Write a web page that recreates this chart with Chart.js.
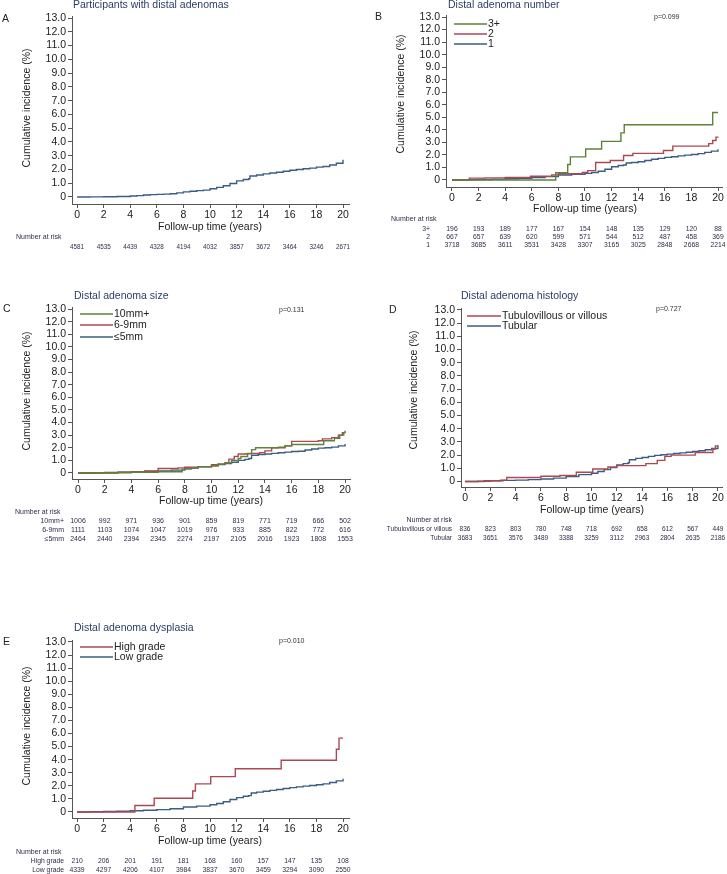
<!DOCTYPE html>
<html>
<head>
<meta charset="utf-8">
<script src="https://cdn.jsdelivr.net/npm/chart.js@4.4.0/dist/chart.umd.min.js"></script>
<style>
  body { margin: 0; background: #fff; width: 727px; height: 874px; position: relative; overflow: hidden; }
  canvas { position: absolute; }
</style>
</head>
<body>
<canvas id="pa"></canvas>
<canvas id="pb"></canvas>
<canvas id="pc"></canvas>
<canvas id="pd"></canvas>
<canvas id="pe"></canvas>
<script>
// axis ticks (years / percent)
const xTicks = [0, 2, 4, 6, 8, 10, 12, 14, 16, 18, 20];
const yTicks = [0, 1, 2, 3, 4, 5, 6, 7, 8, 9, 10, 11, 12, 13];
const riskTimes = [0, 2, 4, 6, 8, 10, 12, 14, 16, 18, 20];

// A - all participants
const aTime = [0, 1, 2, 3, 4, 4.5, 5, 5.5, 6, 6.5, 7, 7.5, 8, 8.5, 9, 9.5, 10, 10.5, 11, 11.5, 12, 12.5, 12.9, 13, 13.5, 14, 14.5, 15, 15.5, 16, 16.5, 17, 17.5, 18, 18.5, 19, 19.5, 20];
const aInc = [0, 0.01, 0.02, 0.04, 0.07, 0.1, 0.14, 0.17, 0.19, 0.21, 0.24, 0.3, 0.37, 0.42, 0.46, 0.5, 0.6, 0.7, 0.82, 0.98, 1.17, 1.27, 1.32, 1.52, 1.6, 1.68, 1.74, 1.8, 1.87, 1.94, 2.0, 2.05, 2.1, 2.17, 2.22, 2.32, 2.45, 2.7];
const aRisk = [4581, 4535, 4439, 4328, 4194, 4032, 3857, 3672, 3464, 3246, 2671];

// B - adenoma number
const bTime3 = [0, 7.8, 8.7, 8.9, 10.05, 11.25, 12.7, 12.95, 19.6, 20];
const bInc3 = [0, 0.58, 1.24, 1.84, 2.47, 3.08, 3.76, 4.4, 5.38, 5.38];
const bTime2 = [0, 1.3, 2.5, 4, 5.9, 7.5, 8, 9.8, 10.2, 10.8, 11.9, 12.9, 13.6, 15.9, 16.6, 19.3, 19.6, 19.85, 20];
const bInc2 = [0, 0.15, 0.17, 0.2, 0.3, 0.4, 0.5, 0.6, 0.75, 1.4, 1.55, 1.95, 2.12, 2.35, 2.7, 2.9, 3.15, 3.42, 3.45];
const bTime1 = [0, 1, 2, 3, 4, 5, 6, 7, 8, 9, 10, 10.5, 11, 11.5, 12, 12.5, 12.9, 13.1, 13.5, 14, 14.5, 15, 15.5, 16, 16.5, 17, 17.5, 18, 18.5, 19, 19.5, 20];
const bInc1 = [0, 0.02, 0.04, 0.07, 0.1, 0.14, 0.2, 0.27, 0.4, 0.46, 0.53, 0.6, 0.7, 0.85, 1.05, 1.15, 1.2, 1.35, 1.4, 1.45, 1.55, 1.65, 1.72, 1.8, 1.85, 1.92, 1.98, 2.03, 2.1, 2.2, 2.3, 2.45];
const bRisk3 = [196, 193, 189, 177, 167, 154, 148, 135, 129, 120, 88];
const bRisk2 = [667, 657, 639, 620, 599, 571, 544, 512, 487, 458, 369];
const bRisk1 = [3718, 3685, 3611, 3531, 3428, 3307, 3165, 3025, 2848, 2668, 2214];

// C - adenoma size
const cTime10 = [0, 1.5, 4, 6, 7.6, 7.8, 8.5, 9, 10, 10.5, 11, 11.5, 12, 12.2, 12.7, 13, 13.3, 15, 15.5, 16, 18.4, 19.2, 19.6, 19.9, 20];
const cInc10 = [0, 0.02, 0.05, 0.1, 0.1, 0.3, 0.4, 0.5, 0.55, 0.7, 0.8, 1.0, 1.15, 1.3, 1.55, 1.85, 2.0, 2.05, 2.15, 2.25, 2.55, 2.75, 3.0, 3.2, 3.2];
const cTime69 = [0, 3, 4, 5, 6, 7.5, 8, 9, 10, 10.5, 11, 11.3, 11.7, 12, 12.6, 13, 13.6, 14, 14.5, 15.5, 16, 18, 18.3, 19, 19.5, 19.8, 20];
const cInc69 = [0, 0.05, 0.1, 0.15, 0.35, 0.4, 0.45, 0.5, 0.65, 0.7, 0.8, 1.1, 1.3, 1.5, 1.52, 1.55, 1.6, 1.75, 2.0, 2.15, 2.5, 2.55, 2.7, 2.8, 3.0, 3.2, 3.35];
const cTime5 = [0, 1, 2, 3, 4, 5, 6, 7, 8, 9, 10, 10.5, 11, 11.5, 12, 12.5, 12.8, 13, 13.5, 14, 14.5, 15, 15.5, 16, 16.5, 17, 17.5, 18, 18.5, 19, 19.5, 20];
const cInc5 = [0, 0.01, 0.03, 0.05, 0.08, 0.11, 0.15, 0.22, 0.38, 0.48, 0.6, 0.67, 0.75, 0.85, 1.0, 1.08, 1.15, 1.4, 1.45, 1.5, 1.55, 1.6, 1.65, 1.7, 1.72, 1.82, 1.9, 1.97, 2.0, 2.05, 2.15, 2.3];
const cRisk10 = [1006, 992, 971, 936, 901, 859, 819, 771, 719, 666, 502];
const cRisk69 = [1111, 1103, 1074, 1047, 1019, 976, 933, 885, 822, 772, 616];
const cRisk5 = [2464, 2440, 2394, 2345, 2274, 2197, 2105, 2016, 1923, 1808, 1553];

// D - histology
const dTimeTV = [0, 1.5, 2.8, 3.3, 6, 7.5, 8.8, 10.1, 11.3, 12, 14.3, 15.2, 15.8, 16.3, 18.2, 19.6, 19.8, 20];
const dIncTV = [0, 0.05, 0.1, 0.3, 0.4, 0.45, 0.7, 0.95, 1.1, 1.2, 1.35, 1.6, 1.9, 2.0, 2.2, 2.45, 2.7, 2.7];
const dTimeT = [0, 1, 2, 3, 4, 5, 6, 7, 8, 9, 10, 10.5, 11, 11.5, 12, 12.5, 12.9, 13, 13.5, 14, 14.5, 15, 15.5, 16, 16.5, 17, 17.5, 18, 18.5, 19, 19.5, 20];
const dIncT = [0, 0.02, 0.05, 0.08, 0.1, 0.14, 0.19, 0.25, 0.38, 0.52, 0.62, 0.75, 0.9, 1.05, 1.25, 1.35, 1.42, 1.65, 1.75, 1.82, 1.9, 1.98, 2.03, 2.07, 2.12, 2.17, 2.22, 2.27, 2.33, 2.4, 2.5, 2.75];
const dRiskTV = [836, 823, 803, 780, 748, 718, 692, 658, 612, 567, 449];
const dRiskT = [3683, 3651, 3576, 3489, 3388, 3259, 3112, 2963, 2804, 2635, 2186];

// E - dysplasia
const eTimeH = [0, 4.35, 5.8, 8.7, 8.9, 10.05, 11.9, 15.35, 19.5, 19.7, 20];
const eIncH = [0, 0.5, 1.05, 1.6, 2.15, 2.7, 3.3, 3.95, 4.8, 5.65, 5.65];
const eTimeL = [0, 1, 2, 3, 4, 5, 6, 7, 8, 9, 10, 10.5, 11, 11.5, 12, 12.5, 12.9, 13.1, 13.5, 14, 14.5, 15, 15.5, 16, 16.5, 17, 17.5, 18, 18.5, 19, 19.5, 20];
const eIncL = [0, 0.02, 0.04, 0.06, 0.09, 0.13, 0.18, 0.25, 0.38, 0.45, 0.55, 0.65, 0.78, 0.95, 1.1, 1.2, 1.25, 1.45, 1.52, 1.58, 1.65, 1.72, 1.8, 1.86, 1.92, 1.98, 2.03, 2.08, 2.15, 2.25, 2.38, 2.55];
const eRiskH = [210, 206, 201, 191, 181, 168, 160, 157, 147, 135, 108];
const eRiskL = [4339, 4297, 4206, 4107, 3984, 3837, 3670, 3459, 3294, 3090, 2550];

const BLUE = '#3a5c85';
const RED = '#ad4852';
const GREEN = '#5e8238';
const FONT = '"Liberation Sans", Arial, sans-serif';

const pts = (t, v) => t.map((x, i) => ({ x: x, y: v[i] }));

const panels = [
  {
    id: 'pa', box: [0, 0, 364, 270], area: [72, 16, 349, 204], xr: [-0.38, 20.45], yr: [-0.51, 13.15],
    letter: ['A', 2, 19], title: ['Participants with distal adenomas', 73, 5], yTitle: [27, 108], xTitle: [210, 227],
    series: [{ label: 'All', data: pts(aTime, aInc), color: BLUE }],
    head: [16, 237, 'left'], rowX: 64, rowsY: [247], riskSize: 6.3,
    risk: [{ label: '', values: aRisk }]
  },
  {
    id: 'pb', box: [364, 0, 363, 270], area: [82, 15, 358, 187], xr: [-0.45, 20.3], yr: [-0.56, 13.16],
    letter: ['B', 11, 17], title: ['Distal adenoma number', 84, 5], yTitle: [37, 94], xTitle: [221, 209],
    p: ['p=0.099', 290, 17],
    series: [
      { label: '3+', data: pts(bTime3, bInc3), color: GREEN },
      { label: '2', data: pts(bTime2, bInc2), color: RED },
      { label: '1', data: pts(bTime1, bInc1), color: BLUE }
    ],
    legend: { x0: 90, x1: 123, ys: [24, 34, 44] },
    head: [27, 219, 'left'], rowX: 66, rowsY: [229, 237, 245], riskSize: 6.8,
    risk: [{ label: '3+', values: bRisk3 }, { label: '2', values: bRisk2 }, { label: '1', values: bRisk1 }]
  },
  {
    id: 'pc', box: [0, 280, 364, 290], area: [72, 27, 350, 199], xr: [-0.45, 20.37], yr: [-0.48, 13.16],
    letter: ['C', 3, 29], title: ['Distal adenoma size', 74, 16], yTitle: [27, 111], xTitle: [211, 221],
    p: ['p=0.131', 279, 30],
    series: [
      { label: '10mm+', data: pts(cTime10, cInc10), color: GREEN },
      { label: '6-9mm', data: pts(cTime69, cInc69), color: RED },
      { label: '≤5mm', data: pts(cTime5, cInc5), color: BLUE }
    ],
    legend: { x0: 80, x1: 113, ys: [34, 45, 57] },
    head: [15, 232, 'left'], rowX: 64, rowsY: [241, 250, 259], riskSize: 7,
    risk: [{ label: '10mm+', values: cRisk10 }, { label: '6-9mm', values: cRisk69 }, { label: '≤5mm', values: cRisk5 }]
  },
  {
    id: 'pd', box: [364, 280, 363, 290], area: [97, 28, 358, 207], xr: [-0.32, 20.32], yr: [-0.42, 13.15],
    letter: ['D', 25, 30], title: ['Distal adenoma histology', 97, 16], yTitle: [50, 110], xTitle: [228, 230],
    p: ['p=0.727', 292, 29],
    series: [
      { label: 'Tubulovillous or villous', data: pts(dTimeTV, dIncTV), color: RED },
      { label: 'Tubular', data: pts(dTimeT, dIncT), color: BLUE }
    ],
    legend: { x0: 103, x1: 137, ys: [36, 46] },
    head: [88, 240, 'right'], rowX: 88, rowsY: [249, 258], riskSize: 6.5,
    risk: [{ label: 'Tubulovillous or villous', values: dRiskTV }, { label: 'Tubular', values: dRiskT }]
  },
  {
    id: 'pe', box: [0, 610, 364, 264], area: [72, 30, 349, 208], xr: [-0.38, 20.45], yr: [-0.46, 13.15],
    letter: ['E', 3, 32], title: ['Distal adenoma dysplasia', 74, 18], yTitle: [27, 116], xTitle: [210, 231],
    p: ['p=0.010', 279, 31],
    series: [
      { label: 'High grade', data: pts(eTimeH, eIncH), color: RED },
      { label: 'Low grade', data: pts(eTimeL, eIncL), color: BLUE }
    ],
    legend: { x0: 80, x1: 113, ys: [37, 47] },
    head: [16, 242, 'left'], rowX: 64, rowsY: [251, 260], riskSize: 6.8,
    risk: [{ label: 'High grade', values: eRiskH }, { label: 'Low grade', values: eRiskL }]
  }
];

const Y_W = 40;
const X_H = 26;

// titles, legend, p-value and number-at-risk table
const decorations = {
  id: 'decorations',
  afterDraw(chart) {
    const p = chart.options.plugins.decorations.panel;
    const ctx = chart.ctx;
    const xs = chart.scales.x;
    ctx.save();
    ctx.textBaseline = 'middle';

    ctx.fillStyle = '#222';
    ctx.font = '10.5px ' + FONT;
    ctx.textAlign = 'left';
    ctx.fillText(p.letter[0], p.letter[1], p.letter[2]);

    ctx.fillStyle = '#2b3d66';
    ctx.fillText(p.title[0], p.title[1], p.title[2]);

    ctx.fillStyle = '#222';
    ctx.textAlign = 'center';
    ctx.fillText('Follow-up time (years)', p.xTitle[0], p.xTitle[1]);

    ctx.save();
    ctx.translate(p.yTitle[0], p.yTitle[1]);
    ctx.rotate(-Math.PI / 2);
    ctx.fillText('Cumulative incidence (%)', 0, 0);
    ctx.restore();

    if (p.legend) {
      p.series.forEach((s, i) => {
        const y = p.legend.ys[i];
        ctx.strokeStyle = s.color;
        ctx.lineWidth = 1.6;
        ctx.beginPath();
        ctx.moveTo(p.legend.x0, y);
        ctx.lineTo(p.legend.x1, y);
        ctx.stroke();
        ctx.fillStyle = '#222';
        ctx.textAlign = 'left';
        ctx.font = '10.5px ' + FONT;
        ctx.fillText(s.label, p.legend.x1 + 1, y);
      });
    }

    if (p.p) {
      ctx.fillStyle = '#333';
      ctx.font = '7px ' + FONT;
      ctx.textAlign = 'left';
      ctx.fillText(p.p[0], p.p[1], p.p[2]);
    }

    ctx.fillStyle = '#2d2d4a';
    ctx.font = '7px ' + FONT;
    ctx.textAlign = p.head[2];
    ctx.fillText('Number at risk', p.head[0], p.head[1]);

    ctx.font = p.riskSize + 'px ' + FONT;
    p.risk.forEach((row, i) => {
      const y = p.rowsY[i];
      ctx.fillStyle = '#2d2d4a';
      if (row.label) {
        ctx.textAlign = 'right';
        ctx.fillText(row.label, p.rowX, y);
      }
      ctx.textAlign = 'center';
      row.values.forEach((v, j) => {
        ctx.fillText(String(v), xs.getPixelForValue(riskTimes[j]), y);
      });
    });
    ctx.restore();
  }
};

panels.forEach(p => {
  const cv = document.getElementById(p.id);
  cv.width = p.box[2];
  cv.height = p.box[3];
  cv.style.left = p.box[0] + 'px';
  cv.style.top = p.box[1] + 'px';

  const axisGrid = { drawOnChartArea: false, drawTicks: true, tickLength: 4, color: '#555', lineWidth: 1 };
  const axisBorder = { display: true, color: '#555', width: 1 };

  new Chart(cv, {
    type: 'line',
    data: {
      datasets: p.series.map(s => ({
        label: s.label,
        data: s.data,
        borderColor: s.color,
        borderWidth: 1.4,
        pointRadius: 0,
        stepped: true,
        fill: false
      }))
    },
    options: {
      responsive: false,
      animation: false,
      layout: {
        padding: {
          left: p.area[0] - Y_W,
          top: p.area[1],
          right: p.box[2] - p.area[2],
          bottom: p.box[3] - p.area[3] - X_H
        }
      },
      scales: {
        x: {
          type: 'linear',
          min: p.xr[0],
          max: p.xr[1],
          afterFit: s => { s.height = X_H; },
          afterBuildTicks: s => { s.ticks = xTicks.map(v => ({ value: v })); },
          grid: axisGrid,
          border: axisBorder,
          ticks: { color: '#1a1a1a', font: { family: FONT, size: 10.5 }, padding: 1, maxRotation: 0, autoSkip: false }
        },
        y: {
          type: 'linear',
          min: p.yr[0],
          max: p.yr[1],
          afterFit: s => { s.width = Y_W; },
          afterBuildTicks: s => { s.ticks = yTicks.map(v => ({ value: v })); },
          grid: axisGrid,
          border: axisBorder,
          ticks: {
            color: '#1a1a1a', font: { family: FONT, size: 10.5 }, padding: 2, autoSkip: false,
            callback: v => (v === 0 ? '0' : v.toFixed(1))
          }
        }
      },
      plugins: {
        legend: { display: false },
        tooltip: { enabled: false },
        decorations: { panel: p }
      }
    },
    plugins: [decorations]
  });
});
</script>
</body>
</html>
